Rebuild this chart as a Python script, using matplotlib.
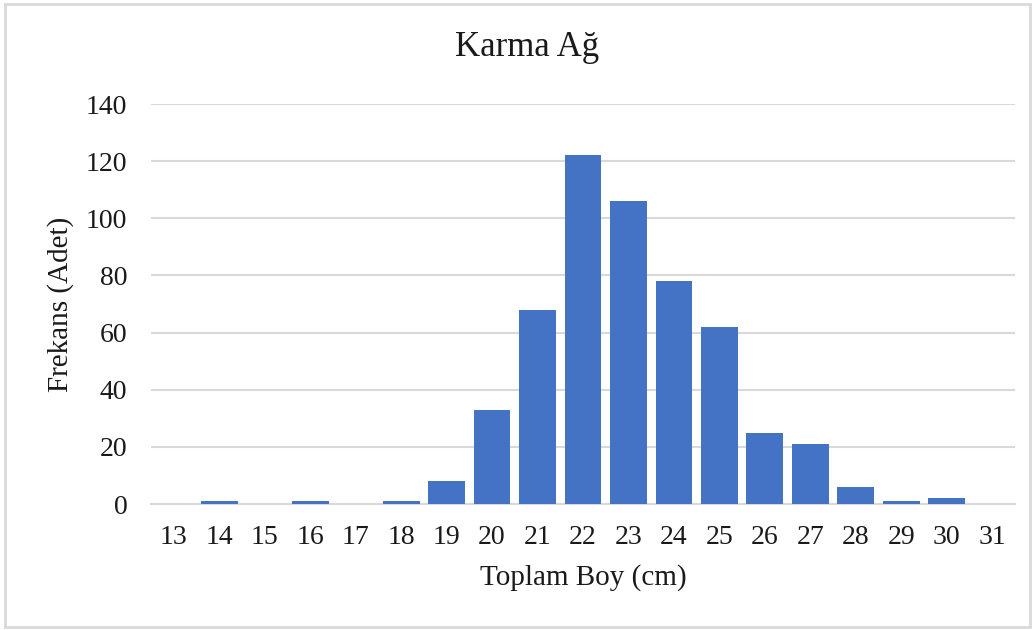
import matplotlib.pyplot as plt
from matplotlib.patches import Rectangle

plt.rcParams['font.family'] = ['Liberation Serif', 'DejaVu Serif']

boy = [13, 14, 15, 16, 17, 18, 19, 20, 21, 22, 23, 24, 25, 26, 27, 28, 29, 30, 31]
frekans = [0, 1, 0, 1, 0, 1, 8, 33, 68, 122, 106, 78, 62, 25, 21, 6, 1, 2, 0]
y_ticks = [0, 20, 40, 60, 80, 100, 120, 140]

fig = plt.figure(figsize=(10.35, 6.3), dpi=100)
ax = fig.add_axes([151 / 1035, 126 / 630, 864 / 1035, 400 / 630])

# chart border
fig.patches.append(Rectangle((0.005, 0.005), 0.99, 0.988, transform=fig.transFigure,
                             fill=False, edgecolor='#d9d9d9', linewidth=2))

pos = list(range(len(boy)))
ax.bar(pos, frekans, width=0.81, color='#4472C4', zorder=3)

ax.set_xlim(-0.5, len(boy) - 0.5)
ax.set_ylim(0, 140)
ax.set_yticks(y_ticks)
ax.set_xticks(pos)
ax.set_xticklabels([str(b) for b in boy])
ax.yaxis.grid(True, color='#d9d9d9', linewidth=1.5, zorder=0)
for s in ['top', 'right', 'left']:
    ax.spines[s].set_visible(False)
ax.spines['bottom'].set_color('#d9d9d9')
ax.spines['bottom'].set_linewidth(1.5)
ax.tick_params(axis='x', length=0, labelsize=20, colors='#1a1a1a', pad=15)
ax.tick_params(axis='y', length=0, labelsize=20, colors='#1a1a1a', pad=17)

fig.text(527 / 1035, 1 - 48 / 630, 'Karma Ağ', fontsize=25, color='#1a1a1a',
         ha='center', va='center')
ax.set_xlabel('Toplam Boy (cm)', fontsize=21, color='#1a1a1a', va='center')
ax.xaxis.set_label_coords(0.5, -0.185)
ax.set_ylabel('Frekans (Adet)', fontsize=21, color='#1a1a1a', va='center')
ax.yaxis.set_label_coords(-0.105, 0.5)

plt.savefig('out.png')
